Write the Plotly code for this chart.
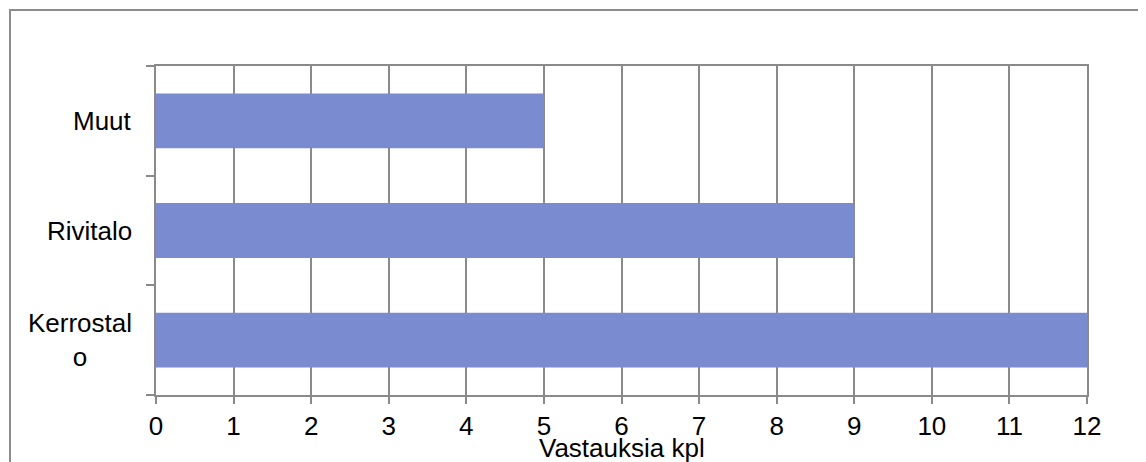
import plotly.graph_objects as go

categories = ["Kerrostalo", "Rivitalo", "Muut"]
category_labels = ["Kerrostal<br>o", "Rivitalo", "Muut"]
values = [12, 9, 5]
x_ticks = list(range(0, 13))
x_title = "Vastauksia kpl"

# page body has an 8px margin, so figure coordinates are offset by 8
OFF = 8
W, H = 1146 - OFF, 462 - OFF
L, T = 156 - OFF, 66 - OFF
R = W - (1087 - OFF)
B = H - (395 - OFF)
pw, ph = W - L - R, H - T - B

FONT = "Arial, Liberation Sans, sans-serif"
GRID = "#8a8a8a"
BAR = "#7b8bcf"
FS = 26

fig = go.Figure()
fig.add_trace(go.Bar(
    y=categories, x=values, orientation="h",
    marker=dict(color=BAR, line=dict(width=0)),
    width=0.5, hoverinfo="skip",
))

annotations = []
for cat, lab in zip(categories, category_labels):
    annotations.append(dict(
        x=0, xref="paper", y=cat, yref="y", text=lab, showarrow=False,
        xanchor="right", yanchor="middle", align="center", xshift=-22,
        font=dict(family=FONT, size=FS, color="#000000"),
    ))
annotations.append(dict(
    x=0.5, xref="paper", y=-(448 - 395) / ph, yref="paper", text=x_title,
    showarrow=False, xanchor="center", yanchor="middle",
    font=dict(family=FONT, size=FS, color="#000000"),
))

fig.update_layout(
    width=W, height=H,
    margin=dict(l=L, r=R, t=T, b=B, pad=0),
    paper_bgcolor="white", plot_bgcolor="white",
    showlegend=False,
    annotations=annotations,
    xaxis=dict(
        range=[0, 12], tickmode="array", tickvals=x_ticks,
        ticktext=[str(v) for v in x_ticks],
        showgrid=True, gridcolor=GRID, gridwidth=2,
        showline=True, linecolor=GRID, linewidth=2, mirror=True,
        ticks="outside", ticklen=7, tickcolor=GRID, tickwidth=2,
        zeroline=False,
        tickfont=dict(family=FONT, size=FS, color="#000000"),
        fixedrange=True,
    ),
    yaxis=dict(
        type="category", categoryorder="array", categoryarray=categories,
        range=[-0.5, 2.5],
        showticklabels=False, showgrid=False,
        showline=True, linecolor=GRID, linewidth=2, mirror=True,
        ticks="outside", tickson="boundaries", ticklen=8, tickcolor=GRID, tickwidth=2,
        zeroline=False, fixedrange=True,
    ),
    shapes=[dict(
        type="rect", xref="paper", yref="paper",
        x0=(10 - 156) / pw, x1=(1143 - 156) / pw,
        y0=-0.4, y1=(395 - 10) / ph,
        line=dict(color="#8c8c8c", width=2), fillcolor="rgba(0,0,0,0)",
    )],
)

fig.write_html("out.html")
